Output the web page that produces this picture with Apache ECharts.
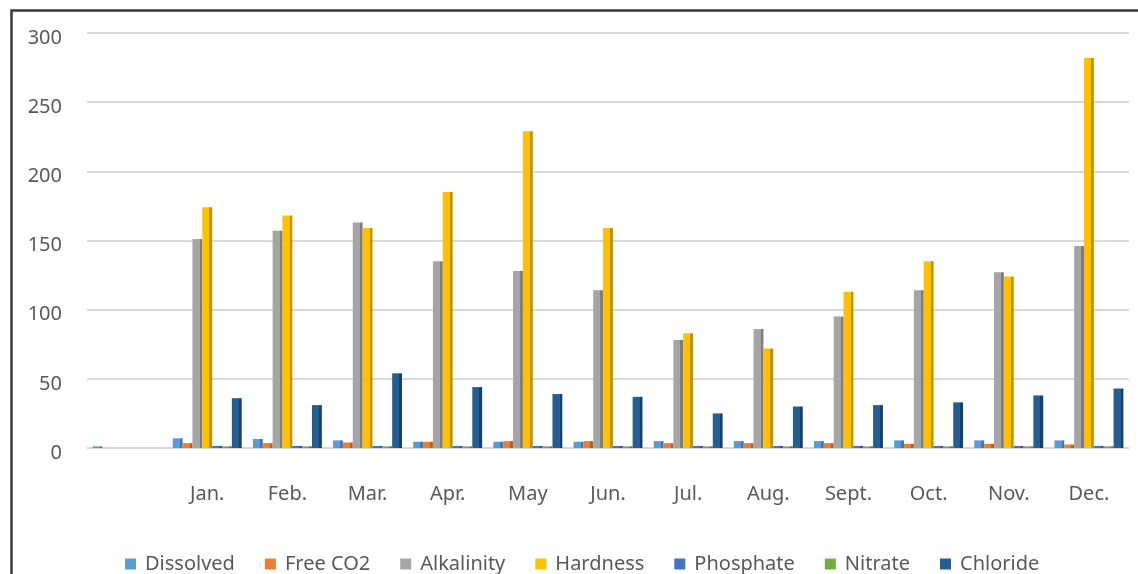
<!DOCTYPE html>
<html>
<head>
<meta charset="utf-8">
<script src="https://cdn.jsdelivr.net/npm/echarts@6/dist/echarts.min.js"></script>
<style>
  html, body { margin: 0; padding: 0; background: #ffffff; }
  #chart { width: 1138px; height: 574px; }
</style>
</head>
<body>
<div id="chart"></div>
<script>
// Monthly water-quality parameters (first slot is an unlabeled lead-in category)
const months = ['', 'Jan.', 'Feb.', 'Mar.', 'Apr.', 'May', 'Jun.', 'Jul.', 'Aug.', 'Sept.', 'Oct.', 'Nov.', 'Dec.'];

const dissolved  = [1.2, 7, 6.5, 5.5, 4.5, 4.5, 4.5, 5, 5, 5, 5.5, 5.5, 5.5];
const freeCO2    = [null, 3.5, 3.5, 4, 4.5, 5, 5, 3.5, 3.5, 3.5, 3, 3, 2.5];
const alkalinity = [null, 151, 157, 163, 135, 128, 114, 78, 86, 95, 114, 127, 146];
const hardness   = [null, 174, 168, 159, 185, 229, 159, 83, 72, 113, 135, 124, 282];
const phosphate  = [null, 1.5, 1.5, 1.5, 1.5, 1.5, 1.5, 1.5, 1.5, 1.5, 1.5, 1.5, 1.5];
const nitrate    = [null, 1.2, 1.2, 1.2, 1.2, 1.2, 1.2, 1.2, 1.2, 1.2, 1.2, 1.2, 1.2];
const chloride   = [null, 36, 31, 54, 44, 39, 37, 25, 30, 31, 33, 38, 43];

const yTicks = { min: 0, max: 300, interval: 50 };

const seriesDefs = [
  { name: 'Dissolved',  data: dissolved,  color: '#5B9BD5', side: '#3F78AC' },
  { name: 'Free CO2',   data: freeCO2,    color: '#ED7D31', side: '#B85E22' },
  { name: 'Alkalinity', data: alkalinity, color: '#A5A5A5', side: '#7C7C7C' },
  { name: 'Hardness',   data: hardness,   color: '#FFC000', side: '#BF9000' },
  { name: 'Phosphate',  data: phosphate,  color: '#4472C4', side: '#2F5597' },
  { name: 'Nitrate',    data: nitrate,    color: '#70AD47', side: '#507E32' },
  { name: 'Chloride',   data: chloride,   color: '#255E91', side: '#17406A' }
];

// Front face plus a darker strip on the right to suggest the column's side
function shaded(front, side) {
  return new echarts.graphic.LinearGradient(0, 0, 1, 0, [
    { offset: 0, color: front },
    { offset: 0.72, color: front },
    { offset: 0.72, color: side },
    { offset: 1, color: side }
  ]);
}

const textFont = '"Noto Sans", "DejaVu Sans", sans-serif';
const chart = echarts.init(document.getElementById('chart'), null, { renderer: 'canvas' });

chart.setOption({
  animation: false,
  backgroundColor: '#ffffff',
  graphic: [{
    type: 'rect',
    left: 9, top: 8,
    shape: { width: 1200, height: 620 },
    style: { fill: 'none', stroke: '#3a3a3a', lineWidth: 2.5 },
    silent: true
  }],
  grid: { left: 87, right: 9, top: 33, bottom: 126 },
  legend: {
    left: 125, top: 554, padding: 0,
    icon: 'rect', itemWidth: 11, itemHeight: 11, itemGap: 30,
    textStyle: { color: '#595959', fontSize: 20, fontFamily: textFont, padding: [0, 0, 0, 4] },
    data: seriesDefs.map(s => ({ name: s.name, itemStyle: { color: s.color } }))
  },
  xAxis: {
    type: 'category',
    data: months,
    axisLine: { show: false },
    axisTick: { show: false },
    axisLabel: { color: '#595959', fontSize: 20, fontFamily: textFont, margin: 36, interval: 0 }
  },
  yAxis: {
    type: 'value',
    min: yTicks.min, max: yTicks.max, interval: yTicks.interval,
    axisLine: { show: false },
    axisTick: { show: false },
    splitLine: { lineStyle: { color: '#d9d9d9', width: 2 } },
    axisLabel: {
      color: '#595959', fontSize: 20, fontFamily: textFont, margin: 25,
      verticalAlign: 'top', lineHeight: 10
    }
  },
  series: seriesDefs.map(s => ({
    name: s.name,
    type: 'bar',
    data: s.data,
    barGap: '0%',
    barCategoryGap: '14%',
    itemStyle: { color: shaded(s.color, s.side) }
  }))
});
</script>
</body>
</html>
